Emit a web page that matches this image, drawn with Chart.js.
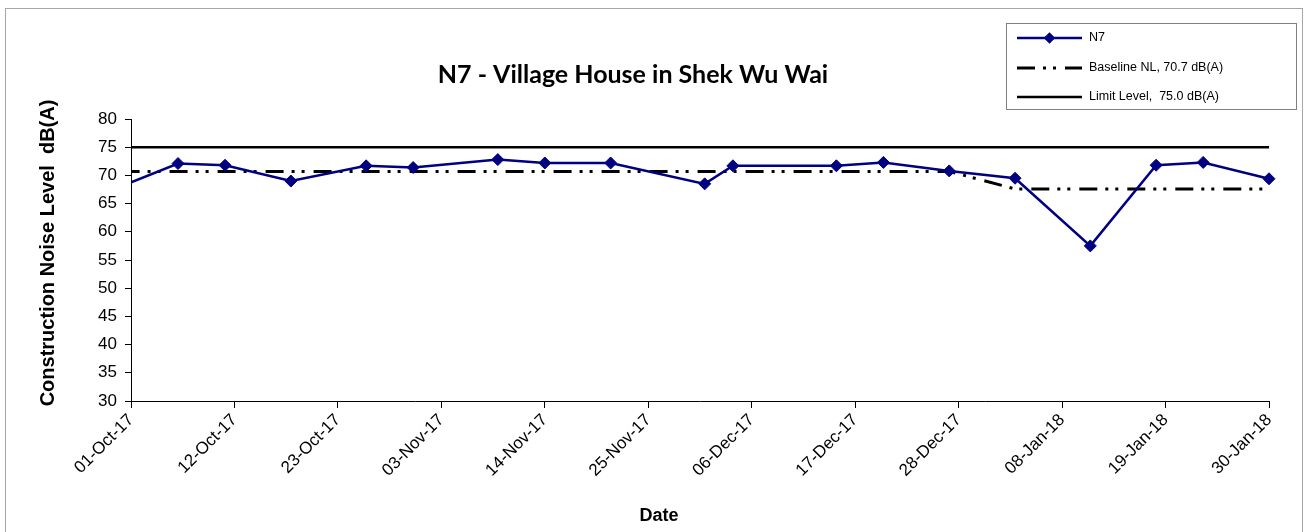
<!DOCTYPE html>
<html>
<head>
<meta charset="utf-8">
<script src="https://cdn.jsdelivr.net/npm/chart.js@4.4.1/dist/chart.umd.min.js"></script>
<style>
    html, body { margin: 0; padding: 0; background: #fff; }
    #wrap { position: relative; width: 1305px; height: 532px; overflow: hidden; }
    #frame { position: absolute; left: 5px; top: 8px; width: 1296px; height: 540px; border: 1px solid #a6a6a6; }
    canvas { position: absolute; left: 0; top: 0; }
</style>
</head>
<body>
<div id="wrap">
    <div id="frame"></div>
    <canvas id="noiseChart" width="1305" height="532"></canvas>
</div>
<script>
// Meetdata N7 (datum + dB(A)), baseline en limiet per meetdatum
const dates = ['2017-09-30', '2017-10-06', '2017-10-11', '2017-10-18', '2017-10-26', '2017-10-31',
    '2017-11-09', '2017-11-14', '2017-11-21', '2017-12-01', '2017-12-04', '2017-12-15',
    '2017-12-20', '2017-12-27', '2018-01-03', '2018-01-11', '2018-01-18', '2018-01-23', '2018-01-30'];
const n7Values = [68.1, 72.1, 71.8, 69.0, 71.7, 71.4, 72.8, 72.2, 72.2, 68.5, 71.7, 71.7,
    72.3, 70.8, 69.5, 57.5, 71.8, 72.3, 69.4];
const baselineValues = [70.7, 70.7, 70.7, 70.7, 70.7, 70.7, 70.7, 70.7, 70.7, 70.7, 70.7, 70.7,
    70.7, 70.7, 67.6, 67.6, 67.6, 67.6, 67.6];
const limitValues = [75, 75, 75, 75, 75, 75, 75, 75, 75, 75, 75, 75, 75, 75, 75, 75, 75, 75, 75];
const tickDates = ['2017-10-01', '2017-10-12', '2017-10-23', '2017-11-03', '2017-11-14', '2017-11-25',
    '2017-12-06', '2017-12-17', '2017-12-28', '2018-01-08', '2018-01-19', '2018-01-30'];
const seriesLabels = ['N7', 'Baseline NL, 70.7 dB(A)', 'Limit Level,  75.0 dB(A)'];

const FONT = '"Liberation Sans", Arial, sans-serif';
const NAVY = '#000080';
const MONTHS = ['Jan', 'Feb', 'Mar', 'Apr', 'May', 'Jun', 'Jul', 'Aug', 'Sep', 'Oct', 'Nov', 'Dec'];
const START = Date.UTC(2017, 9, 1);

// datum -> dagen sinds 01-Oct-17 (lineaire x-as, geen date adapter nodig)
function dayOf(s) {
    const [y, m, d] = s.split('-').map(Number);
    return Math.round((Date.UTC(y, m - 1, d) - START) / 86400000);
}
function fmtDay(n) {
    const d = new Date(START + n * 86400000);
    return String(d.getUTCDate()).padStart(2, '0') + '-' + MONTHS[d.getUTCMonth()] + '-' + String(d.getUTCFullYear()).slice(-2);
}
const toPoints = vals => dates.map((d, i) => ({ x: dayOf(d), y: vals[i] }));

// Titels + legenda in een vak rechtsboven, zoals in het Excel-origineel
const decorPlugin = {
    id: 'decor',
    afterDraw(chart) {
        const ctx = chart.ctx;
        ctx.save();
        ctx.fillStyle = '#000';
        ctx.textAlign = 'center';
        ctx.textBaseline = 'middle';
        ctx.font = 'bold 25px Lato, "Open Sans", sans-serif';
        ctx.fillText('N7 - Village House in Shek Wu Wai', 633, 75);
        ctx.font = 'bold 18px ' + FONT;
        ctx.fillText('Date', 659, 516);
        ctx.translate(48, 253);
        ctx.rotate(-Math.PI / 2);
        ctx.font = 'bold 20px ' + FONT;
        ctx.fillText('Construction Noise Level  dB(A)', 0, 0);
        ctx.restore();

        // legenda
        ctx.save();
        ctx.fillStyle = '#fff';
        ctx.fillRect(1006, 23, 290, 86);
        ctx.strokeStyle = '#808080';
        ctx.lineWidth = 1;
        ctx.strokeRect(1006.5, 23.5, 290, 86);
        const rows = [38, 68, 97];
        chart.data.datasets.forEach((ds, i) => {
            const y = rows[i];
            ctx.strokeStyle = ds.borderColor;
            ctx.lineWidth = ds.borderWidth;
            ctx.setLineDash(ds.borderDash || []);
            ctx.beginPath();
            ctx.moveTo(1017, y);
            ctx.lineTo(1082, y);
            ctx.stroke();
            ctx.setLineDash([]);
            if (ds.pointRadius > 0) {
                ctx.fillStyle = ds.pointBackgroundColor;
                Chart.helpers.drawPoint(ctx, { pointStyle: 'rectRot', radius: 4, borderWidth: 1, rotation: 0 }, 1049.5, y);
                ctx.fill();
            }
            ctx.fillStyle = '#000';
            ctx.textAlign = 'left';
            ctx.textBaseline = 'middle';
            ctx.font = '12.5px ' + FONT;
            ctx.fillText(ds.label, 1089, y);
        });
        ctx.restore();
    }
};

const noClipLeft = { left: 0, top: false, right: false, bottom: false };

new Chart(document.getElementById('noiseChart').getContext('2d'), {
    type: 'line',
    data: {
        datasets: [
            {
                label: seriesLabels[0], data: toPoints(n7Values), borderColor: NAVY, backgroundColor: NAVY,
                borderWidth: 2.5, tension: 0, pointStyle: 'rectRot', pointRadius: 6,
                pointBackgroundColor: NAVY, pointBorderColor: NAVY, pointBorderWidth: 1, clip: noClipLeft, order: 1
            },
            {
                label: seriesLabels[1], data: toPoints(baselineValues), borderColor: '#000', borderWidth: 3,
                borderDash: [18, 8, 3, 7, 3, 9], pointRadius: 0, tension: 0, fill: false, clip: noClipLeft, order: 2
            },
            {
                label: seriesLabels[2], data: toPoints(limitValues), borderColor: '#000', borderWidth: 2.5,
                pointRadius: 0, tension: 0, fill: false, clip: noClipLeft, order: 3
            }
        ]
    },
    options: {
        responsive: false,
        animation: false,
        devicePixelRatio: 1,
        layout: { padding: { top: 119, right: 36, left: 0, bottom: 0 } },
        plugins: { legend: { display: false }, title: { display: false }, tooltip: { enabled: false } },
        scales: {
            x: {
                type: 'linear', min: 0, max: dayOf(tickDates[tickDates.length - 1]),
                afterBuildTicks: scale => { scale.ticks = tickDates.map(d => ({ value: dayOf(d) })); },
                afterFit: scale => { scale.height = 131; },
                grid: { drawOnChartArea: false, drawTicks: true, tickLength: 7, color: '#000' },
                border: { color: '#000', width: 1 },
                ticks: { color: '#000', font: { family: FONT, size: 17 }, minRotation: 45, maxRotation: 45, padding: 2, callback: v => fmtDay(v) }
            },
            y: {
                min: 30, max: 80,
                afterFit: scale => { scale.width = 131; },
                grid: { drawOnChartArea: false, drawTicks: true, tickLength: 6, color: '#000' },
                border: { color: '#000', width: 1 },
                ticks: { stepSize: 5, color: '#000', font: { family: FONT, size: 17 }, padding: 8 }
            }
        }
    },
    plugins: [decorPlugin]
});
</script>
</body>
</html>
